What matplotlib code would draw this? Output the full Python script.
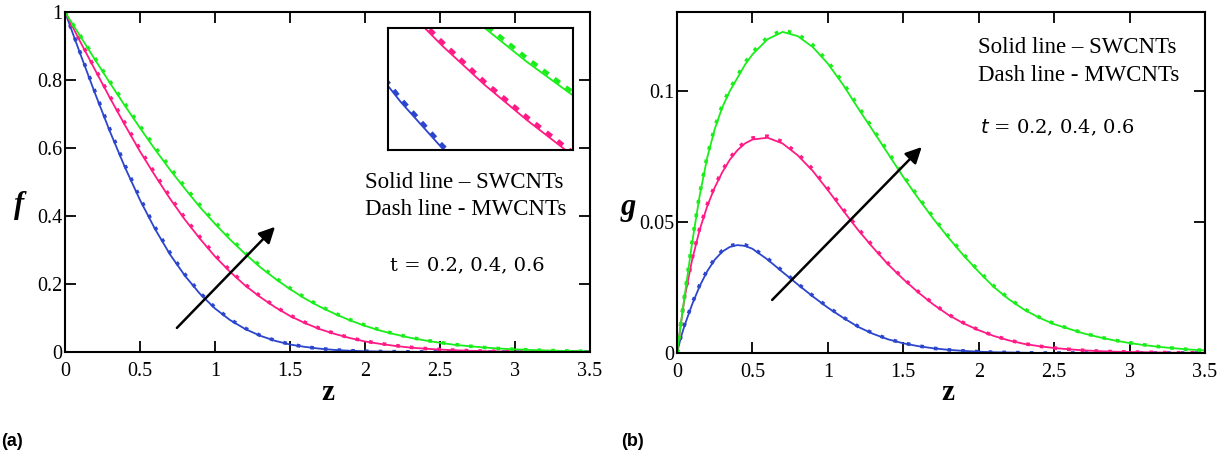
import matplotlib
matplotlib.use("Agg")
import matplotlib.pyplot as plt
from matplotlib.ticker import FuncFormatter

# ---------------- data ----------------
z_f = [round(0.1 * i, 1) for i in range(36)]

f_sw_t02 = [1, 0.879, 0.761, 0.648, 0.543, 0.447, 0.362, 0.287, 0.224, 0.171, 0.128, 0.094,
            0.068, 0.048, 0.033, 0.022, 0.015, 0.0097, 0.0060, 0.0037, 0.0023, 0.0014, 0.0008,
            0.0005, 0.0003, 0.0002, 0.0001, 0.0001, 0, 0, 0, 0, 0, 0, 0, 0]
f_mw_t02 = [1, 0.882, 0.766, 0.654, 0.549, 0.453, 0.367, 0.292, 0.228, 0.174, 0.131, 0.096,
            0.070, 0.049, 0.034, 0.023, 0.015, 0.0100, 0.0063, 0.0039, 0.0024, 0.0015, 0.0009,
            0.0005, 0.0003, 0.0002, 0.0001, 0.0001, 0, 0, 0, 0, 0, 0, 0, 0]
f_sw_t04 = [1, 0.914, 0.830, 0.747, 0.667, 0.590, 0.519, 0.451, 0.389, 0.333, 0.281, 0.236,
            0.196, 0.162, 0.132, 0.106, 0.085, 0.067, 0.053, 0.041, 0.031, 0.024, 0.018, 0.013,
            0.0098, 0.0071, 0.0051, 0.0036, 0.0025, 0.0018, 0.0012, 0.0008, 0.0006, 0.0004,
            0.0003, 0.0002]
f_mw_t04 = [1, 0.916, 0.834, 0.752, 0.673, 0.596, 0.525, 0.457, 0.394, 0.338, 0.286, 0.240,
            0.199, 0.165, 0.134, 0.108, 0.087, 0.069, 0.054, 0.042, 0.032, 0.025, 0.019, 0.014,
            0.0102, 0.0074, 0.0053, 0.0038, 0.0026, 0.0019, 0.0013, 0.0009, 0.0006, 0.0004,
            0.0003, 0.0002]
f_sw_t06 = [1, 0.930, 0.860, 0.791, 0.724, 0.659, 0.596, 0.536, 0.480, 0.426, 0.377, 0.331,
            0.289, 0.250, 0.216, 0.185, 0.157, 0.133, 0.112, 0.093, 0.077, 0.063, 0.052, 0.042,
            0.034, 0.027, 0.021, 0.017, 0.013, 0.010, 0.0078, 0.0060, 0.0047, 0.0035, 0.0027,
            0.0020]
f_mw_t06 = [1, 0.932, 0.864, 0.796, 0.730, 0.665, 0.603, 0.543, 0.486, 0.432, 0.382, 0.336,
            0.293, 0.254, 0.219, 0.188, 0.160, 0.135, 0.114, 0.095, 0.079, 0.065, 0.053, 0.043,
            0.035, 0.028, 0.022, 0.017, 0.013, 0.010, 0.0080, 0.0062, 0.0048, 0.0036, 0.0028,
            0.0021]

z_g = [0, 0.025, 0.05, 0.1, 0.15, 0.2, 0.25, 0.3, 0.35, 0.4, 0.45, 0.5] + \
      [round(0.6 + 0.1 * i, 1) for i in range(30)]

g_sw_t02 = [0, 0.0058, 0.0105, 0.0185, 0.0255, 0.0312, 0.0356, 0.0387, 0.0405, 0.0412, 0.0409,
            0.0398, 0.0357, 0.0309, 0.0262, 0.0216, 0.0173, 0.0135, 0.0100, 0.0073, 0.0052,
            0.0037, 0.0026, 0.0018, 0.0012, 0.0008, 0.0005, 0.0003, 0.0002, 0.0001,
            0, 0, 0, 0, 0, 0, 0, 0, 0, 0, 0, 0]
g_mw_t02 = [0, 0.0060, 0.0108, 0.0189, 0.0259, 0.0316, 0.0360, 0.0391, 0.0409, 0.0416, 0.0413,
            0.0402, 0.0361, 0.0313, 0.0265, 0.0219, 0.0176, 0.0137, 0.0102, 0.0075, 0.0053,
            0.0038, 0.0027, 0.0018, 0.0012, 0.0008, 0.0005, 0.0003, 0.0002, 0.0001,
            0, 0, 0, 0, 0, 0, 0, 0, 0, 0, 0, 0]
g_sw_t04 = [0, 0.0108, 0.0210, 0.0355, 0.0470, 0.0560, 0.0632, 0.0690, 0.0738, 0.0774, 0.0800,
            0.0815, 0.0822, 0.0800, 0.0755, 0.0695, 0.0622, 0.0545, 0.0470, 0.0402, 0.0338,
            0.0282, 0.0231, 0.0185, 0.0145, 0.0113, 0.0087, 0.0065, 0.0048, 0.0035, 0.0026,
            0.0019, 0.0014, 0.0010, 0.0007, 0.0005, 0.0004, 0.0003, 0.0002, 0.0001, 0.0001,
            0.0001]
g_mw_t04 = [0, 0.0111, 0.0214, 0.0360, 0.0475, 0.0566, 0.0638, 0.0696, 0.0744, 0.0780, 0.0806,
            0.0821, 0.0828, 0.0807, 0.0762, 0.0702, 0.0629, 0.0551, 0.0476, 0.0407, 0.0342,
            0.0285, 0.0234, 0.0188, 0.0147, 0.0115, 0.0088, 0.0066, 0.0049, 0.0036, 0.0026,
            0.0019, 0.0014, 0.0010, 0.0007, 0.0005, 0.0004, 0.0003, 0.0002, 0.0001, 0.0001,
            0.0001]
g_sw_t06 = [0, 0.0110, 0.0215, 0.0420, 0.0600, 0.0745, 0.0855, 0.0938, 0.1000, 0.1050, 0.1100,
            0.1140, 0.1198, 0.1226, 0.1210, 0.1168, 0.1105, 0.1025, 0.0935, 0.0848, 0.0760,
            0.0672, 0.0590, 0.0512, 0.0440, 0.0372, 0.0310, 0.0252, 0.0205, 0.0166, 0.0135,
            0.0110, 0.0092, 0.0074, 0.0060, 0.0048, 0.0038, 0.0030, 0.0023, 0.0018, 0.0013,
            0.0010]
g_mw_t06 = [0, 0.0112, 0.0219, 0.0426, 0.0607, 0.0752, 0.0862, 0.0946, 0.1008, 0.1058, 0.1108,
            0.1148, 0.1206, 0.1233, 0.1218, 0.1176, 0.1113, 0.1033, 0.0943, 0.0855, 0.0767,
            0.0679, 0.0596, 0.0518, 0.0445, 0.0377, 0.0314, 0.0256, 0.0208, 0.0169, 0.0137,
            0.0112, 0.0093, 0.0075, 0.0061, 0.0049, 0.0039, 0.0031, 0.0024, 0.0018, 0.0013,
            0.0010]

x_ticks = [0, 0.5, 1, 1.5, 2, 2.5, 3, 3.5]
f_ticks = [0, 0.2, 0.4, 0.6, 0.8, 1]
g_ticks = [0, 0.05, 0.1]
legend_lines = ["Solid line \u2013 SWCNTs", "Dash line - MWCNTs"]
t_label = "t = 0.2, 0.4, 0.6"

# ---------------- style ----------------
BLUE = "#2b45cc"
PINK = "#ff1a85"
GREEN = "#1aee1a"
SERIF = "Liberation Serif"
W, H = 1225, 461

fig = plt.figure(figsize=(W / 100, H / 100), dpi=100)


def px_axes(x0, y0, x1, y1):
    return fig.add_axes([x0 / W, 1 - y1 / H, (x1 - x0) / W, (y1 - y0) / H])


fmt = FuncFormatter(lambda v, p: ("%g" % v))


def style_axes(ax, yticks, ylim):
    ax.set_xlim(0, 3.5)
    ax.set_ylim(*ylim)
    ax.set_xticks(x_ticks)
    ax.set_yticks(yticks)
    ax.xaxis.set_major_formatter(fmt)
    ax.yaxis.set_major_formatter(fmt)
    ax.tick_params(direction="in", length=8, width=1.3, top=True, right=True,
                   labelsize=14.5)
    ax.tick_params(axis="x", pad=7)
    ax.tick_params(axis="y", pad=2)
    for lab in ax.get_xticklabels() + ax.get_yticklabels():
        lab.set_fontfamily(SERIF)
    for s in ax.spines.values():
        s.set_linewidth(1.5)


def draw_pair(ax, x, sw, mw, color, lw_s=1.3, lw_d=2.6, dash=(0, (1.0, 2.8))):
    ax.plot(x, sw, color=color, lw=lw_s, solid_capstyle="round")
    ax.plot(x, mw, color=color, lw=lw_d, linestyle=dash)


# ---- panel (a)
ax1 = px_axes(65, 12, 590, 352)
style_axes(ax1, f_ticks, (0, 1))
for sw, mw, c in [(f_sw_t02, f_mw_t02, BLUE), (f_sw_t04, f_mw_t04, PINK),
                  (f_sw_t06, f_mw_t06, GREEN)]:
    draw_pair(ax1, z_f, sw, mw, c)
ax1.annotate("", xy=(1.413, 0.374), xytext=(0.733, 0.065),
             arrowprops=dict(arrowstyle="-|>", lw=1.8, color="k", mutation_scale=24))
ax1.text(0.571, 0.50, legend_lines[0], transform=ax1.transAxes, fontsize=16.5,
         family=SERIF, va="center")
ax1.text(0.571, 0.42, legend_lines[1], transform=ax1.transAxes, fontsize=16.5,
         family=SERIF, va="center")
ax1.text(0.619, 0.255, t_label, transform=ax1.transAxes, fontsize=14,
         family="DejaVu Serif", va="center")

# inset
axi = px_axes(388, 28, 573, 150)
for sw, mw, c in [(f_sw_t02, f_mw_t02, BLUE), (f_sw_t04, f_mw_t04, PINK),
                  (f_sw_t06, f_mw_t06, GREEN)]:
    draw_pair(axi, z_f, sw, mw, c, lw_s=1.3, lw_d=3.0, dash=(0, (1.6, 1.8)))
axi.set_xlim(0.57, 1.01)
axi.set_ylim(0.285, 0.48)
axi.set_xticks([])
axi.set_yticks([])
for s in axi.spines.values():
    s.set_linewidth(1.5)

# ---- panel (b)
ax2 = px_axes(677, 12, 1205, 353)
style_axes(ax2, g_ticks, (0, 0.1302))
for sw, mw, c in [(g_sw_t02, g_mw_t02, BLUE), (g_sw_t04, g_mw_t04, PINK),
                  (g_sw_t06, g_mw_t06, GREEN)]:
    draw_pair(ax2, z_g, sw, mw, c)
ax2.annotate("", xy=(1.635, 0.0794), xytext=(0.618, 0.0195),
             arrowprops=dict(arrowstyle="-|>", lw=1.8, color="k", mutation_scale=24))
ax2.text(0.570, 0.895, legend_lines[0], transform=ax2.transAxes, fontsize=16.5,
         family=SERIF, va="center")
ax2.text(0.570, 0.815, legend_lines[1], transform=ax2.transAxes, fontsize=16.5,
         family=SERIF, va="center")
ax2.text(0.573, 0.66, "$t$ = 0.2, 0.4, 0.6", transform=ax2.transAxes, fontsize=14,
         family="DejaVu Serif", va="center")

# axis labels
fig.text(19 / W, 1 - 205 / H, "f", fontsize=22, family=SERIF, weight="bold",
         style="italic", ha="center", va="center")
fig.text(628 / W, 1 - 207 / H, "g", fontsize=22, family=SERIF, weight="bold",
         style="italic", ha="center", va="center")
fig.text(328 / W, 1 - 393 / H, "z", fontsize=21, family=SERIF, weight="bold",
         ha="center", va="center")
fig.text(948 / W, 1 - 393 / H, "z", fontsize=21, family=SERIF, weight="bold",
         ha="center", va="center")
fig.text(1 / W, 1 - 441 / H, "(a)", fontsize=13, family="Liberation Sans",
         weight="bold", ha="left", va="center")
fig.text(621 / W, 1 - 441 / H, "(b)", fontsize=13, family="Liberation Sans",
         weight="bold", ha="left", va="center")

fig.savefig("out.png", dpi=100)
